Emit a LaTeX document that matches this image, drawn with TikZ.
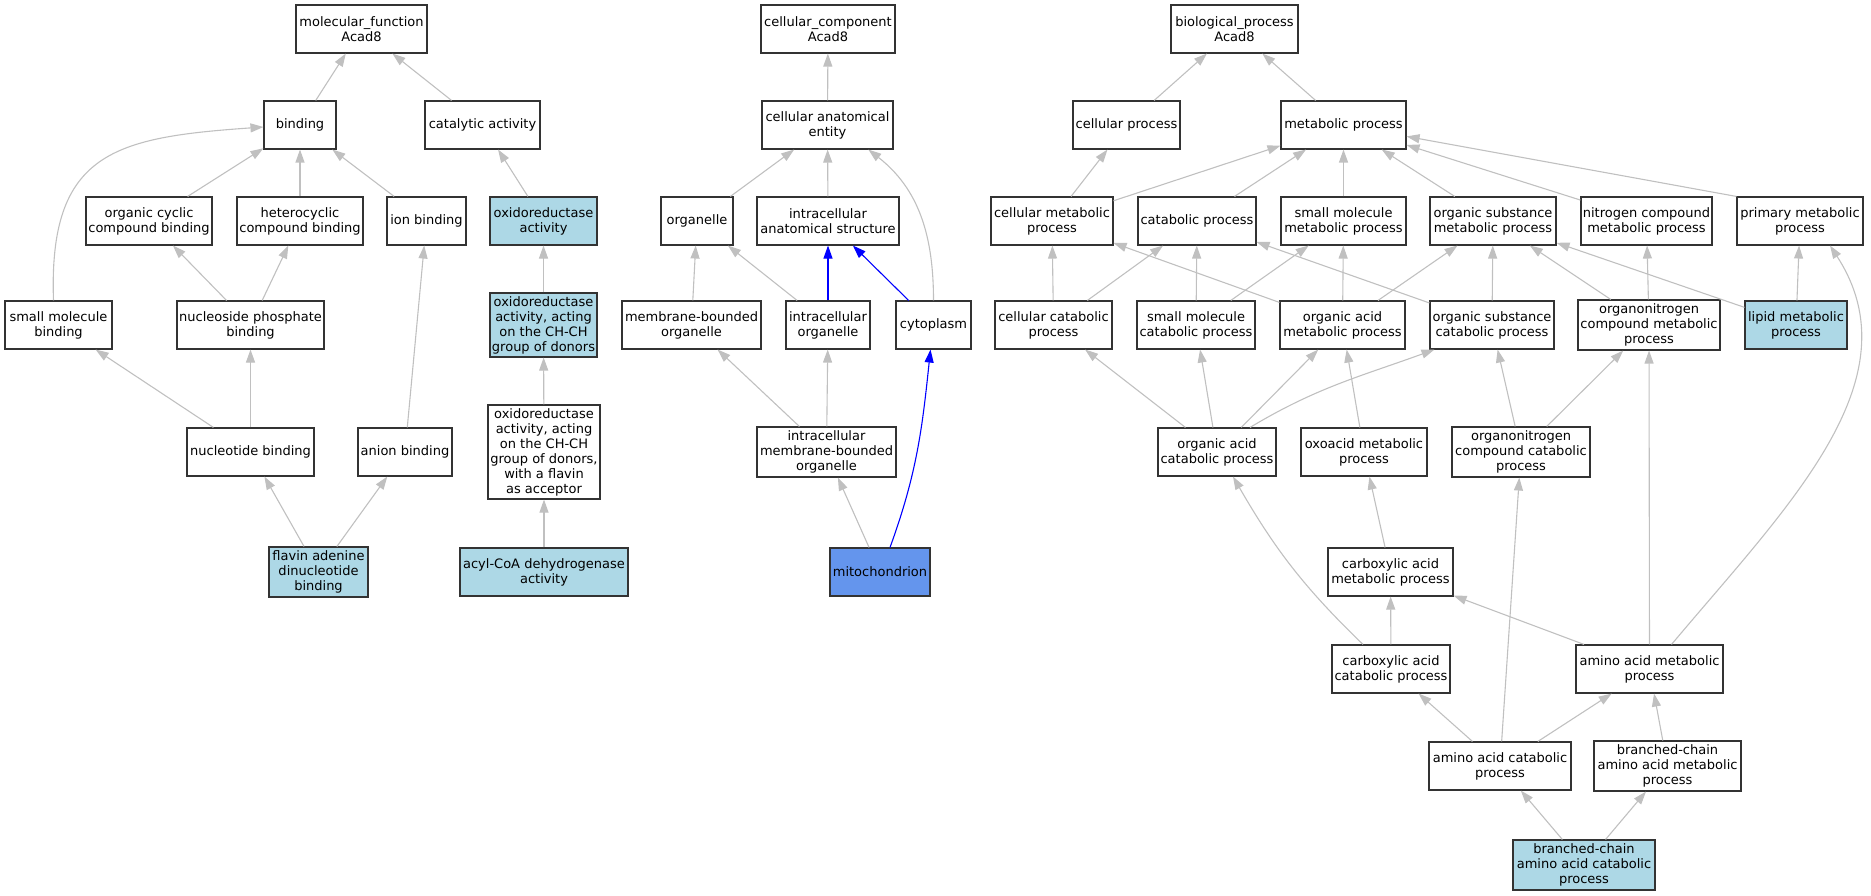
\documentclass[tikz,border=0pt]{standalone}
\usepackage{fontspec}
\setmainfont{DejaVu Sans}
\usetikzlibrary{arrows.meta}
\definecolor{hitblue}{HTML}{ADD8E6}
\definecolor{mainblue}{HTML}{6495ED}
\definecolor{edgegray}{HTML}{C0C0C0}
\begin{document}
\begin{tikzpicture}[x=1pt,y=1pt,
	term/.style={draw=black!80, line width=1.1pt, fill=white, align=center, inner sep=0pt,
		minimum height=48pt, font=\fontsize{13}{15}\selectfont},
	termhit/.style={term, fill=hitblue},
	termmain/.style={term, fill=mainblue},
	goedge/.style={draw=edgegray, line width=1.1pt, -{Triangle[length=13pt,width=9pt,fill=edgegray]}},
	goblue/.style={draw=blue, line width=1.1pt, -{Triangle[length=13pt,width=9pt,fill=blue]}}]
	\useasboundingbox (0,0) rectangle (1871,-896);
	
	% molecular function
	\node[term, minimum width=131pt] (mf) at (361.5,-29) {molecular\_function\\Acad8};
	\node[term, minimum width=72pt] (binding) at (300,-125) {binding};
	\node[term, minimum width=115pt] (catalytic) at (482.5,-125) {catalytic activity};
	\node[term, minimum width=126pt] (orgcyc) at (149,-221) {organic cyclic\\compound binding};
	\node[term, minimum width=126pt] (hetcyc) at (300,-221) {heterocyclic\\compound binding};
	\node[term, minimum width=79pt] (ionbind) at (426.5,-221) {ion binding};
	\node[termhit, minimum width=107pt] (oxred) at (543.5,-221) {oxidoreductase\\activity};
	\node[term, minimum width=107pt] (smbind) at (58.5,-325) {small molecule\\binding};
	\node[term, minimum width=147pt] (nsphos) at (250.5,-325) {nucleoside phosphate\\binding};
	\node[termhit, minimum width=107pt, minimum height=64pt] (oxredch) at (543.5,-325) {oxidoreductase\\activity, acting\\on the CH-CH\\group of donors};
	\node[term, minimum width=127pt] (ntbind) at (250.5,-452) {nucleotide binding};
	\node[term, minimum width=94pt] (anbind) at (405,-452) {anion binding};
	\node[term, minimum width=112pt, minimum height=94pt] (oxredfl) at (544,-452) {oxidoreductase\\activity, acting\\on the CH-CH\\group of donors,\\with a flavin\\as acceptor};
	\node[termhit, minimum width=99pt, minimum height=50pt] (fad) at (318.5,-572) {flavin adenine\\dinucleotide\\binding};
	\node[termhit, minimum width=168pt] (acyl) at (544,-572) {acyl-CoA dehydrogenase\\activity};
	
	% cellular component
	\node[term, minimum width=134pt] (cc) at (828,-29) {cellular\_component\\Acad8};
	\node[term, minimum width=131pt] (cae) at (827.5,-125) {cellular anatomical\\entity};
	\node[term, minimum width=72pt] (organelle) at (697,-221) {organelle};
	\node[term, minimum width=142pt] (ias) at (828,-221) {intracellular\\anatomical structure};
	\node[term, minimum width=139pt] (mbo) at (691.5,-325) {membrane-bounded\\organelle};
	\node[term, minimum width=84pt] (icorg) at (828,-325) {intracellular\\organelle};
	\node[term, minimum width=75pt] (cyto) at (933.5,-325) {cytoplasm};
	\node[term, minimum width=139pt, minimum height=50pt] (imbo) at (826.5,-452) {intracellular\\membrane-bounded\\organelle};
	\node[termmain, minimum width=100pt] (mito) at (880,-572) {mitochondrion};
	
	% biological process
	\node[term, minimum width=127pt] (bp) at (1234.5,-29) {biological\_process\\Acad8};
	\node[term, minimum width=107pt] (cellproc) at (1126.5,-125) {cellular process};
	\node[term, minimum width=125pt] (metab) at (1343.5,-125) {metabolic process};
	\node[term, minimum width=122pt] (cellmet) at (1052,-221) {cellular metabolic\\process};
	\node[term, minimum width=118pt] (catab) at (1197,-221) {catabolic process};
	\node[term, minimum width=125pt] (smmet) at (1343.5,-221) {small molecule\\metabolic process};
	\node[term, minimum width=126pt] (osmet) at (1493,-221) {organic substance\\metabolic process};
	\node[term, minimum width=131pt] (ncmet) at (1646.5,-221) {nitrogen compound\\metabolic process};
	\node[term, minimum width=126pt] (primet) at (1800,-221) {primary metabolic\\process};
	\node[term, minimum width=117pt] (cellcat) at (1053.5,-325) {cellular catabolic\\process};
	\node[term, minimum width=118pt] (smcat) at (1196,-325) {small molecule\\catabolic process};
	\node[term, minimum width=125pt] (oamet) at (1342.5,-325) {organic acid\\metabolic process};
	\node[term, minimum width=124pt] (oscat) at (1492,-325) {organic substance\\catabolic process};
	\node[term, minimum width=142pt, minimum height=50pt] (oncmet) at (1649,-325) {organonitrogen\\compound metabolic\\process};
	\node[termhit, minimum width=102pt] (lipid) at (1796,-325) {lipid metabolic\\process};
	\node[term, minimum width=118pt] (oacat) at (1217,-452) {organic acid\\catabolic process};
	\node[term, minimum width=126pt] (oxomet) at (1364,-452) {oxoacid metabolic\\process};
	\node[term, minimum width=138pt, minimum height=50pt] (onccat) at (1521,-452) {organonitrogen\\compound catabolic\\process};
	\node[term, minimum width=125pt] (camet) at (1390.5,-572) {carboxylic acid\\metabolic process};
	\node[term, minimum width=118pt] (cacat) at (1391,-669) {carboxylic acid\\catabolic process};
	\node[term, minimum width=147pt] (aamet) at (1649.5,-669) {amino acid metabolic\\process};
	\node[term, minimum width=142pt] (aacat) at (1500,-766) {amino acid catabolic\\process};
	\node[term, minimum width=147pt, minimum height=50pt] (bcaamet) at (1667.5,-766) {branched-chain\\amino acid metabolic\\process};
	\node[termhit, minimum width=142pt, minimum height=50pt] (bcaacat) at (1584,-865) {branched-chain\\amino acid catabolic\\process};
	
	% edges, molecular function
	\draw[goedge] (binding) -- (mf);
	\draw[goedge] (catalytic) -- (mf);
	\draw[goedge] ([xshift=-5pt]smbind.north) to[out=92,in=184,looseness=1.4] ([yshift=-2pt]binding.west);
	\draw[goedge] (orgcyc) -- (binding);
	\draw[goedge] (hetcyc) -- (binding);
	\draw[goedge] (ionbind) -- (binding);
	\draw[goedge] (oxred) -- (catalytic);
	\draw[goedge] (nsphos) -- (orgcyc);
	\draw[goedge] (nsphos) -- (hetcyc);
	\draw[goedge] (anbind) -- (ionbind);
	\draw[goedge] (oxredch) -- (oxred);
	\draw[goedge] (ntbind) -- (smbind);
	\draw[goedge] (ntbind) -- (nsphos);
	\draw[goedge] (oxredfl) -- (oxredch);
	\draw[goedge] (fad) -- (ntbind);
	\draw[goedge] (fad) -- (anbind);
	\draw[goedge] (acyl) -- (oxredfl);
	
	% edges, cellular component
	\draw[goedge] (cae) -- (cc);
	\draw[goedge] (organelle) -- (cae);
	\draw[goedge] (ias) -- (cae);
	\draw[goedge] (cyto.north) to[out=90,in=-38] (cae.-31);
	\draw[goedge] (mbo) -- (organelle);
	\draw[goedge] (icorg) -- (organelle);
	\draw[goblue] (icorg) -- (ias);
	\draw[goblue] (cyto) -- (ias);
	\draw[goedge] (imbo) -- (mbo);
	\draw[goedge] (imbo) -- (icorg);
	\draw[goedge] (mito) -- (imbo);
	\draw[goblue] ([xshift=10pt]mito.north) to[out=70,in=-96] ([xshift=-3pt]cyto.south);
	
	% edges, biological process
	\draw[goedge] (cellproc) -- (bp);
	\draw[goedge] (metab) -- (bp);
	\draw[goedge] (cellmet) -- (cellproc);
	\draw[goedge] (cellmet) -- (metab);
	\draw[goedge] (catab) -- (metab);
	\draw[goedge] (smmet) -- (metab);
	\draw[goedge] (osmet) -- (metab);
	\draw[goedge] (ncmet) -- (metab);
	\draw[goedge] (primet.north west) -- (metab);
	\draw[goedge] (cellcat) -- (cellmet);
	\draw[goedge] (cellcat) -- (catab);
	\draw[goedge] (smcat) -- (catab);
	\draw[goedge] (smcat) -- (smmet);
	\draw[goedge] (oamet) -- (cellmet);
	\draw[goedge] (oamet) -- (smmet);
	\draw[goedge] (oamet) -- (osmet);
	\draw[goedge] (oscat) -- (catab);
	\draw[goedge] (oscat) -- (osmet);
	\draw[goedge] (oncmet) -- (osmet);
	\draw[goedge] (oncmet) -- (ncmet);
	\draw[goedge] (lipid) -- (osmet);
	\draw[goedge] (lipid) -- (primet);
	\draw[goedge] (oacat) -- (cellcat);
	\draw[goedge] (oacat) -- (smcat);
	\draw[goedge] (oacat) -- (oamet);
	\draw[goedge] ([xshift=33pt]oacat.north) to[out=31,in=200] ([xshift=5pt]oscat.south west);
	\draw[goedge] (oxomet) -- (oamet);
	\draw[goedge] (onccat) -- (oscat);
	\draw[goedge] (onccat) -- (oncmet);
	\draw[goedge] (camet) -- (oxomet);
	\draw[goedge] ([xshift=-28pt]cacat.north) to[out=136,in=-60] ([xshift=16pt]oacat.south);
	\draw[goedge] (cacat) -- (camet);
	\draw[goedge] (aamet) -- (camet);
	\draw[goedge] (aamet) -- (oncmet);
	\draw[goedge] ([xshift=22pt]aamet.north) .. controls +(50:180) and +(-57:160) .. ([xshift=30pt]primet.south);
	\draw[goedge] (aacat) -- (cacat);
	\draw[goedge] (aacat) -- (aamet);
	\draw[goedge] (aacat) -- (onccat);
	\draw[goedge] (bcaamet) -- (aamet);
	\draw[goedge] (bcaacat) -- (aacat);
	\draw[goedge] (bcaacat) -- (bcaamet);
\end{tikzpicture}
\end{document}
